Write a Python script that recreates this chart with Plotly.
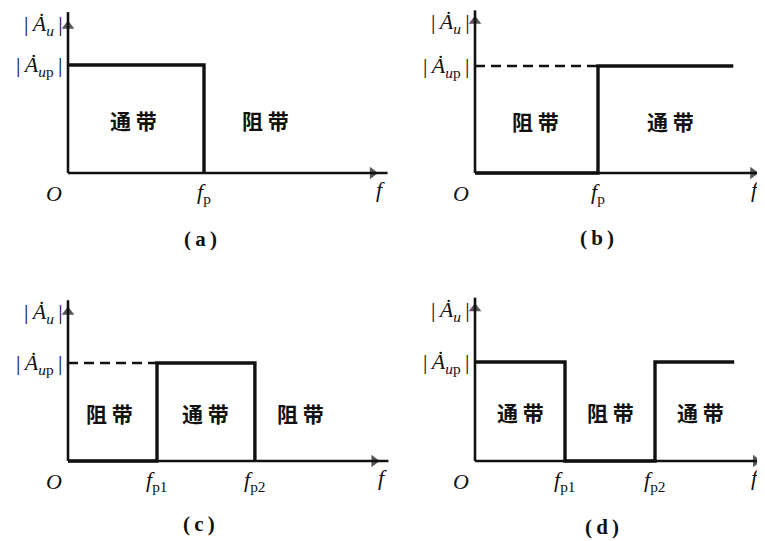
import plotly.graph_objects as go

# 页面 body 默认有 8px 边距，图形尺寸和像素位置都扣掉它
OFF = 8
W, H = 765 - OFF, 541 - OFF

# 截止频率（任意单位），幅值按 |Aup| 归一化
fp_a = 1.0
fp_b = 1.0
fp1_c, fp2_c = 1.0, 2.1
fp1_d, fp2_d = 1.0, 2.0

# (a) 低通
lp_f = [0, fp_a, fp_a]
lp_gain = [1, 1, 0]
# (b) 高通
hp_f = [0, fp_b, fp_b, 2.10]
hp_gain = [0, 0, 1, 1]
hp_dash_f = [0, fp_b]
# (c) 带通
bp_f = [0, fp1_c, fp1_c, fp2_c, fp2_c]
bp_gain = [0, 0, 1, 1, 0]
bp_dash_f = [0, fp1_c]
# (d) 带阻
bs_f = [0, fp1_d, fp1_d, fp2_d, fp2_d, 2.88]
bs_gain = [1, 1, 0, 0, 1, 1]

# 频带文字 (位置, 文本)
bands_a = [(0.48, '通 带'), (1.45, '阻 带')]
bands_b = [(0.49, '阻 带'), (1.59, '通 带')]
bands_c = [(0.47, '阻 带'), (1.54, '通 带'), (2.61, '阻 带')]
bands_d = [(0.50, '通 带'), (1.50, '阻 带'), (2.50, '通 带')]

ticks_a = [(fp_a, 'p')]
ticks_b = [(fp_b, 'p')]
ticks_c = [(fp1_c, 'p1'), (fp2_c, 'p2')]
ticks_d = [(fp1_d, 'p1'), (fp2_d, 'p2')]

captions = ['(a)', '(b)', '(c)', '(d)']

SERIF = 'Liberation Serif, DejaVu Serif, serif'
CJK = 'Noto Sans CJK SC'
INK = '#111111'
TS = '\u2009'  # 细空格

# 每个小图: 原点像素、每单位像素、坐标轴长度、箭头位置、f 标签偏移、标题像素位置（参考图坐标）
panels = [
    dict(ox=68, oy=173, sx=136, sy=108, xend=2.35, xhead=2.24, yend=1.49, yhead=1.36, fsh=8, cap=(201, 239)),
    dict(ox=475, oy=173, sx=123, sy=107, xend=2.35, xhead=2.26, yend=1.52, yhead=1.42, fsh=3, cap=(597, 238)),
    dict(ox=68, oy=461, sx=89, sy=98, xend=3.60, xhead=3.44, yend=1.64, yhead=1.52, fsh=8, cap=(199, 524)),
    dict(ox=475, oy=461, sx=90, sy=99, xend=3.21, xhead=3.12, yend=1.65, yhead=1.54, fsh=0, cap=(602, 527)),
]
responses = [(lp_f, lp_gain), (hp_f, hp_gain), (bp_f, bp_gain), (bs_f, bs_gain)]
dashes = [None, hp_dash_f, bp_dash_f, None]
bands = [bands_a, bands_b, bands_c, bands_d]
ticks = [ticks_a, ticks_b, ticks_c, ticks_d]

fig = go.Figure()
annotations = []
layout = dict(
    width=W, height=H, margin=dict(l=0, r=0, t=0, b=0),
    paper_bgcolor='white', plot_bgcolor='rgba(0,0,0,0)', showlegend=False,
)

for i, p in enumerate(panels):
    n = i + 1
    ox, oy = p['ox'] - OFF, p['oy'] - OFF
    xa = 'x' if n == 1 else f'x{n}'
    ya = 'y' if n == 1 else f'y{n}'
    xkey = 'xaxis' if n == 1 else f'xaxis{n}'
    ykey = 'yaxis' if n == 1 else f'yaxis{n}'
    layout[xkey] = dict(domain=[0, 1], range=[-ox / p['sx'], (W - ox) / p['sx']],
                        visible=False, anchor=ya, fixedrange=True)
    layout[ykey] = dict(domain=[0, 1], range=[(oy - H) / p['sy'], oy / p['sy']],
                        visible=False, anchor=xa, fixedrange=True)

    # 坐标轴
    fig.add_trace(go.Scatter(x=[0, p['xend']], y=[0, 0], mode='lines', xaxis=xa, yaxis=ya,
                             line=dict(color=INK, width=2.6), hoverinfo='skip'))
    fig.add_trace(go.Scatter(x=[0, 0], y=[0, p['yend']], mode='lines', xaxis=xa, yaxis=ya,
                             line=dict(color=INK, width=2.6), hoverinfo='skip'))
    # 箭头
    fig.add_trace(go.Scatter(x=[p['xhead']], y=[0], mode='markers', xaxis=xa, yaxis=ya,
                             marker=dict(symbol='triangle-right', size=[11], color=INK,
                                         line=dict(width=0)), hoverinfo='skip'))
    fig.add_trace(go.Scatter(x=[0], y=[p['yhead']], mode='markers', xaxis=xa, yaxis=ya,
                             marker=dict(symbol='triangle-up', size=[11], color=INK,
                                         line=dict(width=0)), hoverinfo='skip'))

    # 虚线 |Aup|
    if dashes[i] is not None:
        fig.add_trace(go.Scatter(x=dashes[i], y=[1, 1], mode='lines', xaxis=xa, yaxis=ya,
                                 line=dict(color=INK, width=2.5, dash='10px,6px'), hoverinfo='skip'))

    # 幅频特性
    f, g = responses[i]
    fig.add_trace(go.Scatter(x=f, y=g, mode='lines', xaxis=xa, yaxis=ya,
                             line=dict(color=INK, width=3.4), hoverinfo='skip'))

    # 文字
    serif = dict(family=SERIF, size=22, color=INK)
    annotations.append(dict(x=0, y=p['yend'], xref=xa, yref=ya, xanchor='right', yanchor='top',
                            xshift=-3, yshift=3, showarrow=False, font=serif,
                            text=f'|{TS}<i>Ȧ</i><sub><i>u</i></sub>{TS}|'))
    annotations.append(dict(x=0, y=1, xref=xa, yref=ya, xanchor='right', yanchor='middle',
                            xshift=-4, yshift=-1, showarrow=False, font=serif,
                            text=f'|{TS}<i>Ȧ</i><sub><i>u</i>p</sub>{TS}|'))
    annotations.append(dict(x=0, y=0, xref=xa, yref=ya, xanchor='right', yanchor='top',
                            xshift=-4, yshift=-6, showarrow=False, font=serif, text='<i>O</i>'))
    annotations.append(dict(x=p['xhead'], y=0, xref=xa, yref=ya, xanchor='center', yanchor='top',
                            xshift=p['fsh'], yshift=-2, showarrow=False, font=serif, text='<i>f</i>'))
    for fx, sub in ticks[i]:
        annotations.append(dict(x=fx, y=0, xref=xa, yref=ya, xanchor='center', yanchor='top',
                                yshift=-4, showarrow=False, font=serif,
                                text=f'<i>f</i><sub>{sub}</sub>'))
    for bx, txt in bands[i]:
        annotations.append(dict(x=bx, y=0.49, xref=xa, yref=ya, xanchor='center', yanchor='middle',
                                showarrow=False, font=dict(family=CJK, size=21, color=INK),
                                text=f'<b>{txt}</b>'))
    cx, cy = p['cap']
    cap = captions[i]
    annotations.append(dict(x=(cx - OFF) / W, y=1 - (cy - OFF) / H, xref='paper', yref='paper',
                            xanchor='center', yanchor='middle', showarrow=False,
                            font=dict(family=SERIF, size=21, color=INK),
                            text=f'<b>{cap[0]}{TS}{cap[1]}{TS}{cap[2]}</b>'))

layout['annotations'] = annotations
fig.update_layout(**layout)
fig.write_html('out.html')
